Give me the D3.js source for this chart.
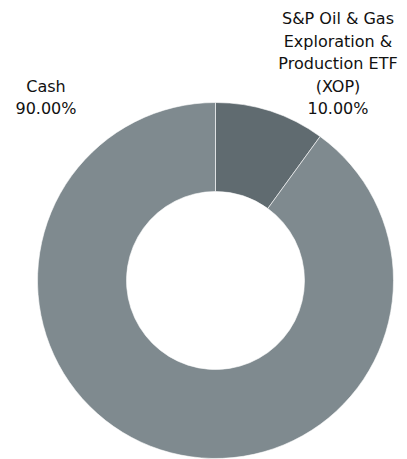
<!DOCTYPE html>
<html>
<head>
<meta charset="utf-8">
<script src="https://cdn.jsdelivr.net/npm/d3@7"></script>
<style>
  body { margin: 0; background: #fff; }
  text { font-family: "DejaVu Sans", Verdana, sans-serif; fill: #111; }
</style>
</head>
<body>
<div id="chart"></div>
<script>
// holdings
const names = ["S&P Oil & Gas Exploration & Production ETF (XOP)", "Cash"];
const values = [10, 90];
const colors = ["#606b70", "#7f8a8f"];
const labelLines = [
  ["S&P Oil & Gas", "Exploration &", "Production ETF", "(XOP)", "10.00%"],
  ["Cash", "90.00%"]
];

const width = 407, height = 459;
const cx = 215.5, cy = 280.5;
const outerR = 178, innerR = 89;

const svg = d3.select("#chart")
  .append("svg")
  .attr("width", width)
  .attr("height", height);

const pie = d3.pie().sort(null).value(d => d)(values);
const arc = d3.arc().innerRadius(innerR).outerRadius(outerR);

svg.append("g")
  .attr("transform", "translate(" + cx + "," + cy + ")")
  .selectAll("path")
  .data(pie)
  .join("path")
    .attr("d", arc)
    .style("fill", (d, i) => colors[i])
    .style("stroke", "#fff")
    .style("stroke-width", 0.6);

// label anchors (center x, last baseline)
const labelPos = [[338, 114], [46, 114]];
const lineH = 22.4;

labelLines.forEach((lines, i) => {
  const t = svg.append("text")
    .attr("text-anchor", "middle")
    .style("font-size", "16px");
  lines.forEach((l, j) => {
    t.append("tspan")
      .attr("x", labelPos[i][0])
      .attr("y", labelPos[i][1] - (lines.length - 1 - j) * lineH)
      .text(l);
  });
});
</script>
</body>
</html>
